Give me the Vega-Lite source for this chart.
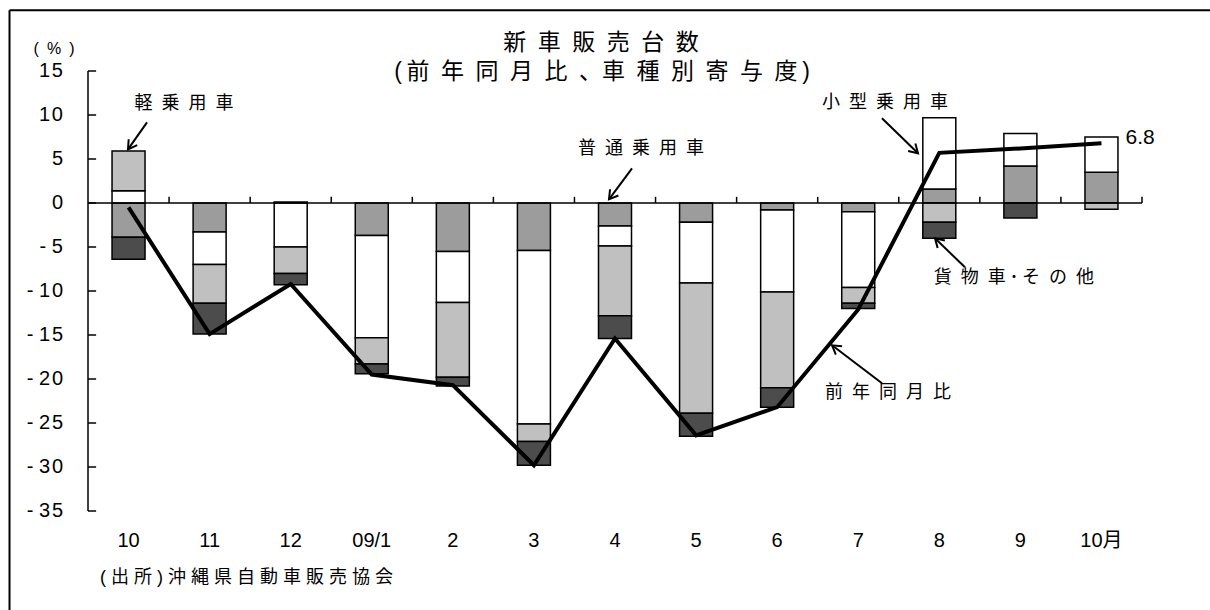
{
  "$schema": "https://vega.github.io/schema/vega-lite/v6.json",
  "width": 1054,
  "height": 440,
  "autosize": "none",
  "padding": {"left": 88, "top": 71, "right": 68, "bottom": 99},
  "background": "white",
  "config": {
    "view": {"stroke": null},
    "font": "Liberation Sans, Noto Sans CJK JP",
    "text": {"color": "black"}
  },
  "datasets": {
    "parts": [
      {"i": 0, "month": "10", "type": "普通乗用車", "n": 1, "v": -3.9},
      {"i": 0, "month": "10", "type": "小型乗用車", "n": 2, "v": 1.4},
      {"i": 0, "month": "10", "type": "軽乗用車", "n": 3, "v": 4.5},
      {"i": 0, "month": "10", "type": "貨物車・その他", "n": 4, "v": -2.5},
      {"i": 1, "month": "11", "type": "普通乗用車", "n": 1, "v": -3.3},
      {"i": 1, "month": "11", "type": "小型乗用車", "n": 2, "v": -3.7},
      {"i": 1, "month": "11", "type": "軽乗用車", "n": 3, "v": -4.4},
      {"i": 1, "month": "11", "type": "貨物車・その他", "n": 4, "v": -3.5},
      {"i": 2, "month": "12", "type": "普通乗用車", "n": 1, "v": 0.1},
      {"i": 2, "month": "12", "type": "小型乗用車", "n": 2, "v": -5.0},
      {"i": 2, "month": "12", "type": "軽乗用車", "n": 3, "v": -3.0},
      {"i": 2, "month": "12", "type": "貨物車・その他", "n": 4, "v": -1.3},
      {"i": 3, "month": "09/1", "type": "普通乗用車", "n": 1, "v": -3.7},
      {"i": 3, "month": "09/1", "type": "小型乗用車", "n": 2, "v": -11.6},
      {"i": 3, "month": "09/1", "type": "軽乗用車", "n": 3, "v": -3.0},
      {"i": 3, "month": "09/1", "type": "貨物車・その他", "n": 4, "v": -1.1},
      {"i": 4, "month": "2", "type": "普通乗用車", "n": 1, "v": -5.5},
      {"i": 4, "month": "2", "type": "小型乗用車", "n": 2, "v": -5.8},
      {"i": 4, "month": "2", "type": "軽乗用車", "n": 3, "v": -8.5},
      {"i": 4, "month": "2", "type": "貨物車・その他", "n": 4, "v": -1.0},
      {"i": 5, "month": "3", "type": "普通乗用車", "n": 1, "v": -5.4},
      {"i": 5, "month": "3", "type": "小型乗用車", "n": 2, "v": -19.7},
      {"i": 5, "month": "3", "type": "軽乗用車", "n": 3, "v": -2.0},
      {"i": 5, "month": "3", "type": "貨物車・その他", "n": 4, "v": -2.7},
      {"i": 6, "month": "4", "type": "普通乗用車", "n": 1, "v": -2.6},
      {"i": 6, "month": "4", "type": "小型乗用車", "n": 2, "v": -2.3},
      {"i": 6, "month": "4", "type": "軽乗用車", "n": 3, "v": -7.9},
      {"i": 6, "month": "4", "type": "貨物車・その他", "n": 4, "v": -2.6},
      {"i": 7, "month": "5", "type": "普通乗用車", "n": 1, "v": -2.2},
      {"i": 7, "month": "5", "type": "小型乗用車", "n": 2, "v": -6.9},
      {"i": 7, "month": "5", "type": "軽乗用車", "n": 3, "v": -14.8},
      {"i": 7, "month": "5", "type": "貨物車・その他", "n": 4, "v": -2.6},
      {"i": 8, "month": "6", "type": "普通乗用車", "n": 1, "v": -0.8},
      {"i": 8, "month": "6", "type": "小型乗用車", "n": 2, "v": -9.3},
      {"i": 8, "month": "6", "type": "軽乗用車", "n": 3, "v": -10.9},
      {"i": 8, "month": "6", "type": "貨物車・その他", "n": 4, "v": -2.2},
      {"i": 9, "month": "7", "type": "普通乗用車", "n": 1, "v": -1.0},
      {"i": 9, "month": "7", "type": "小型乗用車", "n": 2, "v": -8.6},
      {"i": 9, "month": "7", "type": "軽乗用車", "n": 3, "v": -1.8},
      {"i": 9, "month": "7", "type": "貨物車・その他", "n": 4, "v": -0.6},
      {"i": 10, "month": "8", "type": "普通乗用車", "n": 1, "v": 1.6},
      {"i": 10, "month": "8", "type": "小型乗用車", "n": 2, "v": 8.1},
      {"i": 10, "month": "8", "type": "軽乗用車", "n": 3, "v": -2.2},
      {"i": 10, "month": "8", "type": "貨物車・その他", "n": 4, "v": -1.8},
      {"i": 11, "month": "9", "type": "普通乗用車", "n": 1, "v": 4.2},
      {"i": 11, "month": "9", "type": "小型乗用車", "n": 2, "v": 3.7},
      {"i": 11, "month": "9", "type": "貨物車・その他", "n": 4, "v": -1.7},
      {"i": 12, "month": "10月", "type": "普通乗用車", "n": 1, "v": 3.5},
      {"i": 12, "month": "10月", "type": "小型乗用車", "n": 2, "v": 4.0},
      {"i": 12, "month": "10月", "type": "軽乗用車", "n": 3, "v": -0.7}
    ],
    "yoy": [
      {"i": 0, "month": "10", "total": -0.5},
      {"i": 1, "month": "11", "total": -14.9},
      {"i": 2, "month": "12", "total": -9.2},
      {"i": 3, "month": "09/1", "total": -19.5},
      {"i": 4, "month": "2", "total": -20.7},
      {"i": 5, "month": "3", "total": -29.8},
      {"i": 6, "month": "4", "total": -15.4},
      {"i": 7, "month": "5", "total": -26.4},
      {"i": 8, "month": "6", "total": -23.2},
      {"i": 9, "month": "7", "total": -12.1},
      {"i": 10, "month": "8", "total": 5.7},
      {"i": 11, "month": "9", "total": 6.2},
      {"i": 12, "month": "10月", "total": 6.8}
    ],
    "yticks": [
      {"t": 15, "label": "1\u200a5"},
      {"t": 10, "label": "1\u200a0"},
      {"t": 5, "label": "5"},
      {"t": 0, "label": "0"},
      {"t": -5, "label": "-\u2009\u200a5"},
      {"t": -10, "label": "-\u2009\u200a1\u200a0"},
      {"t": -15, "label": "-\u2009\u200a1\u200a5"},
      {"t": -20, "label": "-\u2009\u200a2\u200a0"},
      {"t": -25, "label": "-\u2009\u200a2\u200a5"},
      {"t": -30, "label": "-\u2009\u200a3\u200a0"},
      {"t": -35, "label": "-\u2009\u200a3\u200a5"}
    ],
    "xticks": [
      {"b": 0.5}, {"b": 1.5}, {"b": 2.5}, {"b": 3.5}, {"b": 4.5}, {"b": 5.5}, {"b": 6.5},
      {"b": 7.5}, {"b": 8.5}, {"b": 9.5}, {"b": 10.5}, {"b": 11.5}, {"b": 12.5}
    ]
  },
  "layer": [
    {
      "data": {"name": "parts"},
      "mark": {"type": "bar", "width": 33, "stroke": "black", "strokeWidth": 1.5},
      "encoding": {
        "x": {
          "field": "i", "type": "quantitative",
          "scale": {"domain": [-0.5, 12.5], "nice": false, "zero": false, "padding": 0},
          "axis": null
        },
        "y": {
          "field": "v", "type": "quantitative", "stack": "zero",
          "scale": {"domain": [-35, 15], "nice": false, "zero": false},
          "axis": null
        },
        "color": {
          "field": "type", "type": "nominal",
          "scale": {"domain": ["普通乗用車", "小型乗用車", "軽乗用車", "貨物車・その他"], "range": ["#9c9c9c", "#ffffff", "#c0c0c0", "#4c4c4c"]},
          "legend": null
        },
        "order": {"field": "n", "type": "quantitative"}
      }
    },
    {
      "data": {"values": [{}]},
      "layer": [
        {
          "mark": {"type": "rule", "color": "black", "strokeWidth": 1.5},
          "encoding": {"x": {"datum": -0.5, "axis": null}, "y": {"datum": -35, "axis": null}, "y2": {"datum": 15}}
        },
        {
          "mark": {"type": "rule", "color": "black", "strokeWidth": 1.5},
          "encoding": {"x": {"datum": -0.5, "axis": null}, "x2": {"datum": 12.5}, "y": {"datum": 0, "axis": null}}
        },
        {
          "mark": {"type": "rule", "color": "black", "strokeWidth": 2},
          "encoding": {"x": {"datum": -1.468, "axis": null}, "x2": {"datum": 13.45}, "y": {"datum": 21.9, "axis": null}}
        },
        {
          "mark": {"type": "rule", "color": "black", "strokeWidth": 2},
          "encoding": {"x": {"datum": -1.468, "axis": null}, "y": {"datum": 21.9, "axis": null}, "y2": {"datum": -47}}
        }
      ]
    },
    {
      "data": {"name": "yticks"},
      "layer": [
        {
          "mark": {"type": "rule", "color": "black", "strokeWidth": 1.5},
          "encoding": {
            "x": {"datum": -0.5, "axis": null},
            "x2": {"datum": -0.4},
            "y": {"field": "t", "type": "quantitative", "axis": null}
          }
        },
        {
          "mark": {"type": "text", "align": "right", "dx": -25, "fontSize": 20},
          "encoding": {
            "x": {"datum": -0.5, "axis": null},
            "y": {"field": "t", "type": "quantitative", "axis": null},
            "text": {"field": "label", "type": "nominal"}
          }
        }
      ]
    },
    {
      "data": {"name": "xticks"},
      "mark": {"type": "rule", "color": "black", "strokeWidth": 1.5},
      "encoding": {
        "x": {"field": "b", "type": "quantitative", "axis": null},
        "y": {"datum": 0, "axis": null},
        "y2": {"datum": 0.7}
      }
    },
    {
      "data": {"name": "yoy"},
      "mark": {"type": "line", "color": "black", "strokeWidth": 4, "strokeJoin": "miter"},
      "encoding": {
        "x": {"field": "i", "type": "quantitative", "axis": null},
        "y": {"field": "total", "type": "quantitative", "axis": null}
      }
    },
    {
      "data": {"name": "yoy"},
      "transform": [{"filter": "datum.month === '10月'"}],
      "mark": {"type": "text", "align": "left", "dx": 24, "dy": -5, "fontSize": 21},
      "encoding": {
        "x": {"field": "i", "type": "quantitative", "axis": null},
        "y": {"field": "total", "type": "quantitative", "axis": null},
        "text": {"field": "total", "type": "quantitative", "format": ".1f"}
      }
    },
    {
      "data": {"name": "yoy"},
      "mark": {"type": "text", "fontSize": 20},
      "encoding": {
        "x": {"field": "i", "type": "quantitative", "axis": null},
        "y": {"datum": -38.44, "axis": null},
        "text": {"field": "month", "type": "nominal"}
      }
    },
    {
      "data": {"values": [{}]},
      "layer": [
        {
          "mark": {"type": "text", "text": "(\u2002%\u2002)", "fontSize": 16},
          "encoding": {"x": {"datum": -0.919, "axis": null}, "y": {"datum": 17.45, "axis": null}}
        },
        {
          "mark": {"type": "text", "text": "新\u2002車\u2002販\u2002売\u2002台\u2002数", "fontSize": 23},
          "encoding": {"x": {"datum": 5.827, "axis": null}, "y": {"datum": 18.15, "axis": null}}
        },
        {
          "mark": {"type": "text", "text": "(\u2009前\u2002年\u2002同\u2002月\u2002比\u2002、車\u2002種\u2002別\u2002寄\u2002与\u2002度\u2009)", "fontSize": 23},
          "encoding": {"x": {"datum": 5.84, "axis": null}, "y": {"datum": 14.85, "axis": null}}
        },
        {
          "mark": {"type": "text", "text": "軽\u2002乗\u2002用\u2002車", "fontSize": 18},
          "encoding": {"x": {"datum": 0.684, "axis": null}, "y": {"datum": 11.27, "axis": null}}
        },
        {
          "mark": {"type": "text", "text": "普\u2002通\u2002乗\u2002用\u2002車", "fontSize": 18},
          "encoding": {"x": {"datum": 6.32, "axis": null}, "y": {"datum": 6.16, "axis": null}}
        },
        {
          "mark": {"type": "text", "text": "小\u2002型\u2002乗\u2002用\u2002車", "fontSize": 18},
          "encoding": {"x": {"datum": 9.33, "axis": null}, "y": {"datum": 11.33, "axis": null}}
        },
        {
          "mark": {"type": "text", "text": "貨\u2002物\u2002車\u2009･\u2009そ\u2002の\u2002他", "fontSize": 18},
          "encoding": {"x": {"datum": 10.92, "axis": null}, "y": {"datum": -8.5, "axis": null}}
        },
        {
          "mark": {"type": "text", "text": "前\u2002年\u2002同\u2002月\u2002比", "fontSize": 18},
          "encoding": {"x": {"datum": 9.367, "axis": null}, "y": {"datum": -21.63, "axis": null}}
        },
        {
          "mark": {"type": "text", "text": "(\u00a0出\u00a0所\u00a0)\u00a0沖\u00a0縄\u00a0県\u00a0自\u00a0動\u00a0車\u00a0販\u00a0売\u00a0協\u00a0会", "fontSize": 18, "align": "left"},
          "encoding": {"x": {"datum": -0.352, "axis": null}, "y": {"datum": -42.65, "axis": null}}
        },
        {
          "mark": {"type": "rule", "color": "black", "strokeWidth": 2},
          "encoding": {"x": {"datum": 0.228, "axis": null}, "y": {"datum": 9.17, "axis": null}, "x2": {"datum": -0.007}, "y2": {"datum": 6.1}}
        },
        {
          "mark": {"type": "point", "shape": "M-1,-0.6L0,0L-1,0.6", "size": 300, "filled": false, "stroke": "black", "strokeWidth": 2, "opacity": 1, "angle": 125},
          "encoding": {"x": {"datum": -0.007, "axis": null}, "y": {"datum": 6.1, "axis": null}}
        },
        {
          "mark": {"type": "rule", "color": "black", "strokeWidth": 2},
          "encoding": {"x": {"datum": 6.21, "axis": null}, "y": {"datum": 3.94, "axis": null}, "x2": {"datum": 5.926}, "y2": {"datum": 0.42}}
        },
        {
          "mark": {"type": "point", "shape": "M-1,-0.6L0,0L-1,0.6", "size": 300, "filled": false, "stroke": "black", "strokeWidth": 2, "opacity": 1, "angle": 127},
          "encoding": {"x": {"datum": 5.926, "axis": null}, "y": {"datum": 0.42, "axis": null}}
        },
        {
          "mark": {"type": "rule", "color": "black", "strokeWidth": 2},
          "encoding": {"x": {"datum": 9.293, "axis": null}, "y": {"datum": 9.63, "axis": null}, "x2": {"datum": 9.737}, "y2": {"datum": 5.65}}
        },
        {
          "mark": {"type": "point", "shape": "M-1,-0.6L0,0L-1,0.6", "size": 300, "filled": false, "stroke": "black", "strokeWidth": 2, "opacity": 1, "angle": 44},
          "encoding": {"x": {"datum": 9.737, "axis": null}, "y": {"datum": 5.65, "axis": null}}
        },
        {
          "mark": {"type": "rule", "color": "black", "strokeWidth": 2},
          "encoding": {"x": {"datum": 10.317, "axis": null}, "y": {"datum": -7.31, "axis": null}, "x2": {"datum": 9.947}, "y2": {"datum": -4.01}}
        },
        {
          "mark": {"type": "point", "shape": "M-1,-0.6L0,0L-1,0.6", "size": 300, "filled": false, "stroke": "black", "strokeWidth": 2, "opacity": 1, "angle": 224},
          "encoding": {"x": {"datum": 9.947, "axis": null}, "y": {"datum": -4.01, "axis": null}}
        },
        {
          "mark": {"type": "rule", "color": "black", "strokeWidth": 2},
          "encoding": {"x": {"datum": 9.293, "axis": null}, "y": {"datum": -20.49, "axis": null}, "x2": {"datum": 8.677}, "y2": {"datum": -16.17}}
        },
        {
          "mark": {"type": "point", "shape": "M-1,-0.6L0,0L-1,0.6", "size": 300, "filled": false, "stroke": "black", "strokeWidth": 2, "opacity": 1, "angle": 217},
          "encoding": {"x": {"datum": 8.677, "axis": null}, "y": {"datum": -16.17, "axis": null}}
        }
      ]
    }
  ]
}
